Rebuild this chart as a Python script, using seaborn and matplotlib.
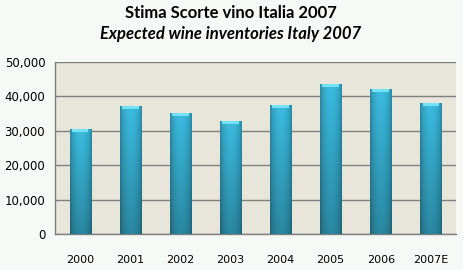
import numpy as np
import pandas as pd
import matplotlib
matplotlib.use("Agg")
import matplotlib.pyplot as plt
import seaborn as sns
from matplotlib.ticker import FuncFormatter, MultipleLocator

years = ["2000", "2001", "2002", "2003", "2004", "2005", "2006", "2007E"]
inventories = [30500, 37200, 35200, 32800, 37500, 43600, 42100, 38100]
title_it = "Stima Scorte vino Italia 2007"
title_en = "Expected wine inventories Italy 2007"

df = pd.DataFrame({"year": years, "value": inventories})

sns.set_theme(style="white")
plt.rcParams["font.family"] = ["DejaVu Sans"]

fig = plt.figure(figsize=(4.64, 2.70), dpi=100, facecolor="#F5FAF7")
ax = fig.add_axes([55/464, 1-234/270, 401/464, 172/270])
ax.set_facecolor("#E8E6DA")

sns.barplot(data=df, x="year", y="value", ax=ax, color="#36B5D8", width=0.42,
            edgecolor="#2A7F98", linewidth=0.6, saturation=1, zorder=3)

# gradient shading on each bar
grad_x = np.linspace(0, 1, 64)
shade = np.sin(np.pi * grad_x) ** 0.6
base = np.array(matplotlib.colors.to_rgb("#3BBCE0"))
for p in ax.patches:
    x0, y0 = p.get_x(), p.get_y()
    w, h = p.get_width(), p.get_height()
    yy = np.linspace(0.72, 1.0, 64)[:, None]
    img = base[None, None, :] * (shade[None, :, None] * 0.3 + 0.7) * yy[:, :, None]
    img = np.clip(img, 0, 1)
    im = ax.imshow(img, extent=[x0, x0 + w, y0, y0 + h], aspect="auto",
                   origin="lower", zorder=3.5)
    im.set_clip_path(p)
    ax.fill_between([x0 + w * 0.1, x0 + w * 0.9], y0 + h - 900, y0 + h - 60,
                    color="#72E2F6", zorder=3.6, linewidth=0)

ax.set_xlim(-0.5, 7.5)
ax.set_ylim(0, 50000)
ax.yaxis.set_major_locator(MultipleLocator(10000))
ax.yaxis.set_major_formatter(FuncFormatter(lambda v, _: f"{int(v):,}"))
ax.grid(axis="y", color="#808080", linewidth=1.0, zorder=1)
ax.set_axisbelow(True)
ax.set_xlabel("")
ax.set_ylabel("")

for s in ["top", "right"]:
    ax.spines[s].set_visible(False)
for s in ["left", "bottom"]:
    ax.spines[s].set_color("#808080")
    ax.spines[s].set_linewidth(1.0)

ax.set_xticks(np.arange(-0.5, 8.0, 1.0), minor=True)
ax.tick_params(axis="x", which="major", length=0, pad=15, labelsize=8, labelcolor="black")
ax.tick_params(axis="x", which="minor", length=5, width=1, color="#808080", direction="out")
ax.tick_params(axis="y", which="major", length=5, width=1, color="#808080",
               direction="out", labelsize=8.5, pad=2, labelcolor="black")

fig.text(0.497, 1 - 13/270, title_it, ha="center", va="center", color="black",
         fontsize=12, fontweight="bold", family="Lato")
fig.text(0.497, 1 - 34/270, title_en, ha="center", va="center", color="black",
         fontsize=12, fontweight="bold", fontstyle="italic", family="Lato")

fig.savefig("out.png", dpi=100, facecolor=fig.get_facecolor())
